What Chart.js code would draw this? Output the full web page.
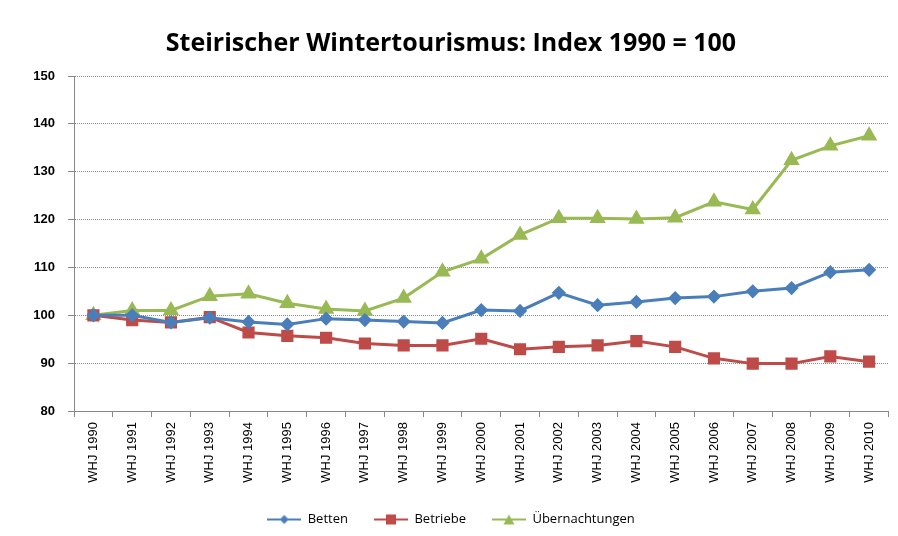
<!DOCTYPE html>
<html>
<head>
<meta charset="utf-8">
<script src="https://cdn.jsdelivr.net/npm/chart.js@4/dist/chart.umd.min.js"></script>
<style>
  html, body { margin: 0; padding: 0; background: #fff; }
  #wrap { width: 898px; height: 536px; }
</style>
</head>
<body>
<div id="wrap"><canvas id="myChart" width="898" height="536"></canvas></div>
<script>
const labels = ['WHJ 1990', 'WHJ 1991', 'WHJ 1992', 'WHJ 1993', 'WHJ 1994', 'WHJ 1995', 'WHJ 1996',
    'WHJ 1997', 'WHJ 1998', 'WHJ 1999', 'WHJ 2000', 'WHJ 2001', 'WHJ 2002', 'WHJ 2003',
    'WHJ 2004', 'WHJ 2005', 'WHJ 2006', 'WHJ 2007', 'WHJ 2008', 'WHJ 2009', 'WHJ 2010'];

const betten = [100, 100.0, 98.5, 99.5, 98.6, 98.1, 99.3, 99.0, 98.7, 98.4, 101.1,
    100.9, 104.7, 102.1, 102.8, 103.6, 103.9, 105.0, 105.7, 109.0, 109.5];

const betriebe = [100, 99.0, 98.5, 99.6, 96.4, 95.7, 95.3, 94.1, 93.7, 93.7, 95.1,
    92.9, 93.4, 93.7, 94.6, 93.4, 91.0, 89.9, 89.9, 91.4, 90.3];

const uebernachtungen = [100, 101.0, 101.0, 104.0, 104.5, 102.5, 101.3, 100.9, 103.6, 109.1, 111.8,
    116.8, 120.3, 120.3, 120.1, 120.4, 123.7, 122.1, 132.4, 135.4, 137.5];

const yTicks = [80, 90, 100, 110, 120, 130, 140, 150];

const blau = '#4a7ebb';
const rot = '#be4b48';
const gruen = '#98b954';

// kleines Legendensymbol: Linie mit Marker in der Mitte
function legendSymbol(color, style) {
    const c = document.createElement('canvas');
    c.width = 34; c.height = 12;
    const ctx = c.getContext('2d');
    ctx.strokeStyle = color;
    ctx.fillStyle = color;
    ctx.lineWidth = 2;
    ctx.beginPath();
    ctx.moveTo(0, 6); ctx.lineTo(34, 6);
    ctx.stroke();
    ctx.beginPath();
    if (style === 'rectRot') {
        ctx.moveTo(17, 1.5); ctx.lineTo(21.5, 6); ctx.lineTo(17, 10.5); ctx.lineTo(12.5, 6);
    } else if (style === 'rect') {
        ctx.rect(12, 1, 10, 10);
    } else {
        ctx.moveTo(17, 1); ctx.lineTo(22.5, 11); ctx.lineTo(11.5, 11);
    }
    ctx.closePath();
    ctx.fill();
    return c;
}

const data = {
    labels: labels,
    datasets: [{
        label: 'Betten',
        data: betten,
        borderColor: blau,
        backgroundColor: blau,
        pointStyle: 'rectRot',
        pointRadius: 5,
        pointHoverRadius: 5,
        borderWidth: 3
    },
    {
        label: 'Betriebe',
        data: betriebe,
        borderColor: rot,
        backgroundColor: rot,
        pointStyle: 'rect',
        pointRadius: 6.5,
        pointHoverRadius: 6.5,
        borderWidth: 3
    },
    {
        label: 'Übernachtungen',
        data: uebernachtungen,
        borderColor: gruen,
        backgroundColor: gruen,
        pointStyle: 'triangle',
        pointRadius: 6.5,
        pointHoverRadius: 6.5,
        borderWidth: 3
    }]
};

const config = {
    type: 'line',
    data: data,
    options: {
        responsive: false,
        animation: false,
        layout: { padding: { left: 0, right: -4, top: 14, bottom: 0 } },
        plugins: {
            title: {
                display: true,
                text: 'Steirischer Wintertourismus: Index 1990 = 100',
                color: '#000',
                font: { family: 'Open Sans', size: 25, weight: 'bold' },
                padding: { top: 15, bottom: 17 }
            },
            legend: {
                position: 'bottom',
                labels: {
                    usePointStyle: true,
                    pointStyleWidth: 34,
                    boxHeight: 12,
                    color: '#000',
                    font: { family: 'Open Sans', size: 13 },
                    padding: 26,
                    generateLabels: (chart) => chart.data.datasets.map((ds, i) => ({
                        text: ds.label,
                        pointStyle: legendSymbol(ds.borderColor, ds.pointStyle),
                        fillStyle: ds.borderColor,
                        strokeStyle: ds.borderColor,
                        lineWidth: 0,
                        datasetIndex: i,
                        fontColor: '#000'
                    }))
                }
            },
            tooltip: { enabled: false }
        },
        scales: {
            x: {
                offset: true,
                grid: {
                    offset: true,
                    drawOnChartArea: false,
                    drawTicks: true,
                    tickLength: 6,
                    tickColor: '#888'
                },
                border: { color: '#888', width: 1 },
                ticks: {
                    maxRotation: 90,
                    minRotation: 90,
                    autoSkip: false,
                    color: '#000',
                    padding: 5,
                    font: { family: 'Liberation Sans', size: 13 }
                },
                afterFit: (scale) => { scale.height = 76; }
            },
            y: {
                min: 80,
                max: 150,
                afterBuildTicks: (scale) => { scale.ticks = yTicks.map(v => ({ value: v })); },
                grid: {
                    color: '#8c8c8c',
                    lineWidth: 1,
                    tickLength: 6,
                    tickColor: '#888',
                    tickBorderDash: []
                },
                border: { color: '#888', width: 1, dash: [1, 1] },
                ticks: {
                    color: '#000',
                    padding: 13,
                    font: { family: 'Liberation Sans', size: 13, weight: 'bold' }
                },
                afterFit: (scale) => { scale.width = 74; }
            }
        }
    }
};

const myChart = new Chart(document.getElementById('myChart'), config);
</script>
</body>
</html>
